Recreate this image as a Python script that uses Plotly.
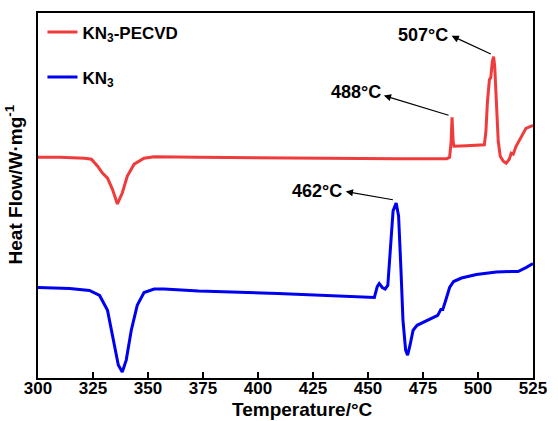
import plotly.graph_objects as go

# ---- data (Temperature in °C, heat flow in arbitrary units, red curve offset) ----
pecvd_T = [300.0, 309.9, 321.2, 324.3, 327.1, 329.3, 331.6, 333.8, 336.1, 338.3, 340.6, 343.7,
           348.2, 352.8, 373.0, 418.1, 463.2, 485.8, 487.1, 487.8, 488.2, 488.7, 489.1, 494.8,
           502.9, 503.6, 504.3, 505.2, 505.8, 506.5, 507.1, 507.6, 508.3, 509.2, 510.1, 511.5,
           512.8, 514.2, 515.1, 516.0, 517.3, 519.6, 521.8, 525.0]
pecvd_HF = [2.22, 2.22, 2.21, 2.20, 2.13, 2.06, 2.01, 1.90, 1.75, 1.86, 2.03, 2.15,
            2.21, 2.225, 2.22, 2.21, 2.205, 2.205, 2.22, 2.38, 2.62, 2.38, 2.33, 2.335,
            2.345, 2.48, 2.78, 3.00, 3.02, 3.18, 3.23, 3.13, 2.78, 2.38, 2.23, 2.18,
            2.16, 2.20, 2.26, 2.25, 2.33, 2.43, 2.51, 2.54]

kn3_T = [300.0, 314.4, 323.4, 328.0, 331.6, 334.3, 336.5, 338.3, 340.1, 342.4, 345.1, 348.2,
         352.8, 357.3, 373.0, 409.1, 431.7, 452.9, 454.2, 455.1, 456.5, 457.8, 459.0, 460.1,
         461.4, 462.8, 463.9, 465.0, 465.9, 467.1, 468.0, 469.1, 470.5, 472.3, 476.8, 481.7,
         483.1, 484.0, 485.3, 487.1, 488.9, 492.5, 499.3, 508.3, 515.1, 518.2, 521.8, 525.0]
kn3_HF = [0.91, 0.90, 0.88, 0.83, 0.68, 0.38, 0.13, 0.06, 0.18, 0.48, 0.73, 0.86,
          0.895, 0.895, 0.875, 0.85, 0.83, 0.81, 0.92, 0.95, 0.91, 0.895, 0.93, 1.28,
          1.68, 1.76, 1.63, 1.08, 0.58, 0.28, 0.23, 0.33, 0.48, 0.53, 0.58, 0.63,
          0.69, 0.69, 0.78, 0.91, 0.97, 1.005, 1.04, 1.065, 1.07, 1.07, 1.11, 1.15]

x_ticks = [300, 325, 350, 375, 400, 425, 450, 475, 500, 525]
x_tick_labels = [str(t) for t in x_ticks]

# peak annotations: label, label position, arrow head, arrow tail (peak)
peak_labels = ["507°C", "488°C", "462°C"]
label_T = [474.9, 444.7, 426.7]
label_HF = [3.45, 2.873, 1.88]
head_T = [488.0, 457.2, 439.9]
head_HF = [3.44, 2.84, 1.875]
tail_T = [506.5, 487.3, 462.0]
tail_HF = [3.25, 2.637, 1.79]

FONT = "'Liberation Sans', Arial, Helvetica, sans-serif"

fig = go.Figure()
fig.add_trace(go.Scatter(x=pecvd_T, y=pecvd_HF, mode="lines", name="<b>KN<sub>3</sub>-PECVD</b>",
                         line=dict(color="#EF3B3B", width=3), legendgroup="a"))
fig.add_trace(go.Scatter(x=kn3_T, y=kn3_HF, mode="lines", name="<b>KN<sub>3</sub></b>",
                         line=dict(color="#0000F0", width=3), legendgroup="b"))

for lab, lx, ly, hx, hy, tx, ty in zip(peak_labels, label_T, label_HF, head_T, head_HF, tail_T, tail_HF):
    fig.add_annotation(x=hx, y=hy, ax=tx, ay=ty, axref="x", ayref="y", xref="x", yref="y",
                       text="", showarrow=True, arrowhead=2, arrowsize=1.2, arrowwidth=1.2,
                       arrowcolor="black")
    fig.add_annotation(x=lx, y=ly, xref="x", yref="y", text=f"<b>{lab}</b>", showarrow=False,
                       font=dict(family=FONT, size=18, color="black"), xanchor="center", yanchor="middle")

# axis titles (paper coordinates are relative to the plot area)
fig.add_annotation(x=0.534, y=-0.085, xref="paper", yref="paper",
                   text="<b>Temperature/°C</b>", showarrow=False,
                   font=dict(family=FONT, size=19, color="black"), xanchor="center", yanchor="middle")
fig.add_annotation(x=-0.048, y=0.531, xref="paper", yref="paper",
                   text="<b>Heat Flow/W·mg<sup>-1</sup></b>", showarrow=False, textangle=-90,
                   font=dict(family=FONT, size=19, color="black"), xanchor="center", yanchor="middle")

fig.update_layout(
    width=558, height=421,
    margin=dict(l=38, r=21, t=11, b=43),
    paper_bgcolor="white", plot_bgcolor="white",
    font=dict(family=FONT, color="black"),
    legend=dict(x=0.009, y=0.996, xanchor="left", yanchor="top", bgcolor="rgba(0,0,0,0)",
                font=dict(family=FONT, size=17, color="black"),
                tracegroupgap=20, itemwidth=30),
    showlegend=True,
)
fig.update_xaxes(range=[300, 525], tickvals=x_ticks,
                 ticktext=[f"<b>{t}</b>" for t in x_tick_labels],
                 ticks="inside", ticklen=6, tickwidth=2, ticklabelstandoff=-6,
                 tickcolor="black", showline=True, linewidth=2, linecolor="black", mirror=True,
                 showgrid=False, zeroline=False,
                 tickfont=dict(family=FONT, size=17, color="black", weight="bold"))
fig.update_yaxes(range=[0, 3.67], showticklabels=False, ticks="", showline=True, linewidth=2,
                 linecolor="black", mirror=True, showgrid=False, zeroline=False)

fig.write_html("out.html")
